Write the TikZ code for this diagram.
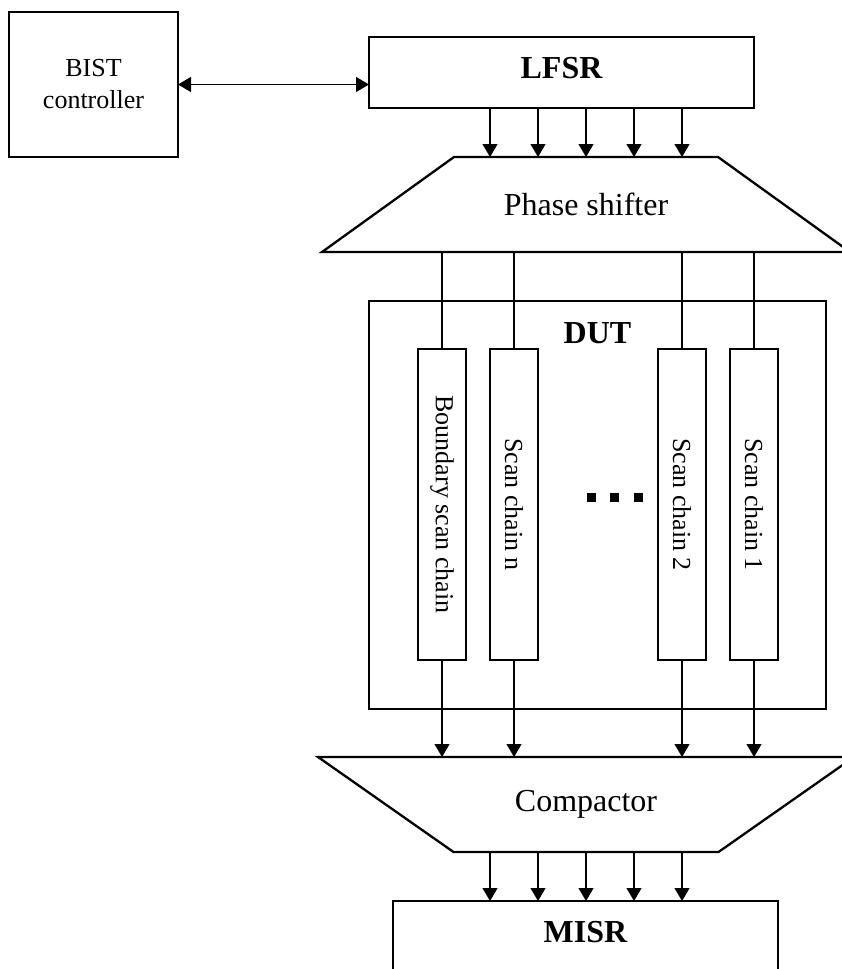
\documentclass[tikz,border=0pt]{standalone}
\usepackage{fontspec}
\setmainfont{Liberation Serif}
\usepackage{graphicx}
\usetikzlibrary{arrows.meta}
\newcommand\txtsz{\fontsize{26}{32}\selectfont}
\newcommand\bigsz{\fontsize{32}{38}\selectfont}
\tikzset{
  box/.style={draw,line width=2.3pt,inner sep=0pt,outer sep=0pt},
  regbox/.style={box,minimum width=385pt,minimum height=71pt,text depth=9pt,font=\bigsz\bfseries},
  chainbox/.style={draw,line width=1.3pt,inner sep=0pt,outer sep=0pt,minimum width=48pt,minimum height=311pt,font=\txtsz},
  trap/.style={inner sep=0pt,outer sep=0pt,minimum height=95pt,font=\bigsz},
  edge/.style={line width=2.3pt},
  wire/.style={line width=1.3pt},
  sig/.style={-{Triangle[length=13pt,width=15pt]},line width=1.3pt},
  bisig/.style={{Triangle[length=13pt,width=15pt]}-{Triangle[length=13pt,width=15pt]},line width=1.3pt},
}

\begin{document}
\begin{tikzpicture}[x=1pt,y=-1pt]
  \clip (0,0) rectangle (842,969);
  % controller and pattern source
  \node[box,minimum width=169pt,minimum height=145pt,align=center,font=\txtsz] (bist) at (93.5,84.5) {BIST\\controller};
  \node[regbox] (lfsr) at (561.5,72.5) {LFSR};
  \draw[bisig] (bist.east) -- (bist.east -| lfsr.west);
  \node[trap] (ps) at (586,204.5) {Phase shifter};
  \draw[edge] ([xshift=-264pt]ps.south) -- ([xshift=-132pt]ps.north) -- ([xshift=132pt]ps.north)
    -- ([xshift=264pt]ps.south) -- cycle;
  \foreach \dx in {-96,-48,0,48,96} {
    \path (ps.north) ++(\dx,0) coordinate (t);
    \draw[sig] (t |- lfsr.south) -- (t);
  }
  % circuit under test
  \node[box,minimum width=457pt,minimum height=408pt] (dut) at (597.5,505) {};
  \node[font=\bigsz\bfseries] (duttitle) at (597.5,333) {DUT};
  \node[chainbox] (bsc) at (442,504.5) {\rotatebox{-90}{Boundary scan chain}};
  \node[chainbox] (scn) at (514,504.5) {\rotatebox{-90}{Scan chain n}};
  \node[chainbox] (sc2) at (682,504.5) {\rotatebox{-90}{Scan chain 2}};
  \node[chainbox] (sc1) at (754,504.5) {\rotatebox{-90}{Scan chain 1}};
  \foreach \x in {591,614.5,638.5}
    \fill (\x-4.5,492.5) rectangle (\x+4.5,501.5);
  % response side
  \node[trap] (cmp) at (586,804.5) {Compactor};
  \draw[edge] ([xshift=-268pt]cmp.north) -- ([xshift=268pt]cmp.north) -- ([xshift=132.5pt]cmp.south)
    -- ([xshift=-132.5pt]cmp.south) -- cycle;
  \node[regbox] (misr) at (585.5,936.5) {MISR};
  \foreach \c in {bsc,scn,sc2,sc1} {
    \draw[wire] (\c.north |- ps.south) -- (\c.north);
    \draw[sig] (\c.south) -- (\c.south |- cmp.north);
  }
  \foreach \dx in {-96,-48,0,48,96} {
    \path (cmp.south) ++(\dx,0) coordinate (b);
    \draw[sig] (b) -- (b |- misr.north);
  }
\end{tikzpicture}
\end{document}
